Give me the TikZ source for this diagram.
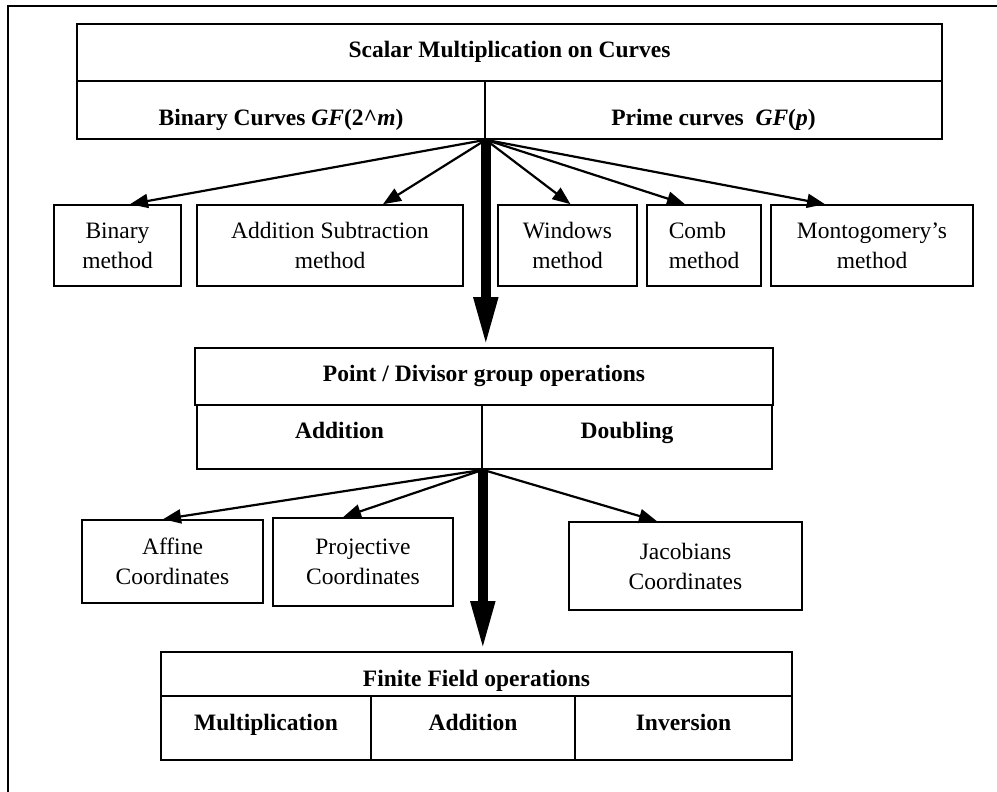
\documentclass[tikz,border=0pt]{standalone}
\usepackage{fontspec}
\setmainfont{Liberation Serif}
\usetikzlibrary{arrows.meta}
\begin{document}
\begin{tikzpicture}[x=1pt,y=-1pt,
  box/.style={draw, line width=1.6pt, inner sep=0pt, font=\fontsize{23.5}{30}\selectfont, align=center},
  bt/.style={anchor=base, inner sep=0pt, font=\fontsize{23.5}{30}\selectfont\bfseries},
  thinarrow/.style={line width=2.2pt, -{Triangle[length=18pt,width=14pt]}},
  thickarrow/.style={line width=10pt, -{Triangle[length=50pt,width=22pt]}}]
\useasboundingbox (0,0) rectangle (997,792);
\draw[line width=2pt] (997,6) -- (8,6) -- (8,792);

% top block
\node[box, minimum width=865pt, minimum height=57pt] (top) at (509.5,52.5) {};
\node[box, minimum width=408pt, minimum height=58pt] (bc) at (281,110) {};
\node[box, minimum width=457pt, minimum height=58pt] (pc) at (713.5,110) {};
\node[bt] (ttop) at (509.5,58) {Scalar Multiplication on Curves};
\node[bt] (tbc) at (281,125) {Binary Curves \textit{GF}(2\textasciicircum\textit{m})};
\node[bt] (tpc) at (713.5,125) {Prime curves\ \ \textit{GF}(\textit{p})};

% methods
\node[box, minimum width=127pt, minimum height=81pt] (bin) at (117.5,245.5) {Binary\\method};
\node[box, minimum width=266pt, minimum height=81pt] (asm) at (330,245.5) {Addition Subtraction\\method};
\node[box, minimum width=139pt, minimum height=81pt] (win) at (567.5,245.5) {Windows\\method};
\node[box, minimum width=114pt, minimum height=81pt, align=left] (comb) at (704,245.5) {Comb\\method};
\node[box, minimum width=202pt, minimum height=81pt] (mont) at (872,245.5) {Montogomery’s\\method};

% point / divisor block
\node[box, minimum width=578pt, minimum height=57pt] (ph) at (484,376.5) {};
\node[box, minimum width=285pt, minimum height=64pt] (padd) at (339.5,437) {};
\node[box, minimum width=290pt, minimum height=64pt] (pdbl) at (627,437) {};
\node[bt] (tph) at (484,381) {Point / Divisor group operations};
\node[bt] (tpadd) at (339.5,438) {Addition};
\node[bt] (tpdbl) at (627,438) {Doubling};

% coordinates
\node[box, minimum width=181pt, minimum height=83pt] (aff) at (172.5,561.5) {Affine\\Coordinates};
\node[box, minimum width=180pt, minimum height=88pt] (proj) at (363,562) {Projective\\Coordinates};
\node[box, minimum width=233pt, minimum height=88pt] (jac) at (685.5,566) {Jacobians\\Coordinates};

% finite field block
\node[box, minimum width=631pt, minimum height=44pt] (ff) at (476.5,674) {};
\node[box, minimum width=210pt, minimum height=64pt] (fmul) at (266,728) {};
\node[box, minimum width=204pt, minimum height=64pt] (fadd) at (473,728) {};
\node[box, minimum width=217pt, minimum height=64pt] (finv) at (683.5,728) {};
\node[bt] (tff) at (476.5,686) {Finite Field operations};
\node[bt] (tfmul) at (266,730) {Multiplication};
\node[bt] (tfadd) at (473,730) {Addition};
\node[bt] (tfinv) at (683.5,730) {Inversion};

% arrows from top
\draw[thinarrow] (bc.south east) -- ([xshift=12.5pt]bin.north);
\draw[thinarrow] (bc.south east) -- ([xshift=53pt]asm.north);
\draw[thinarrow] (bc.south east) -- ([xshift=3pt]win.north);
\draw[thinarrow] (bc.south east) -- ([xshift=-19pt]comb.north);
\draw[thinarrow] (bc.south east) -- ([xshift=-47pt]mont.north);
\draw[thickarrow] (bc.south east) -- (bc.south east |- ph.north);

% arrows from point block
\draw[thinarrow] (padd.south east) -- ([xshift=-9.5pt]aff.north);
\draw[thinarrow] (padd.south east) -- ([xshift=-20pt]proj.north);
\draw[thinarrow] (padd.south east) -- ([xshift=-28.5pt]jac.north);
\draw[thickarrow] (padd.south east) -- (padd.south east |- ff.north);
\end{tikzpicture}
\end{document}
